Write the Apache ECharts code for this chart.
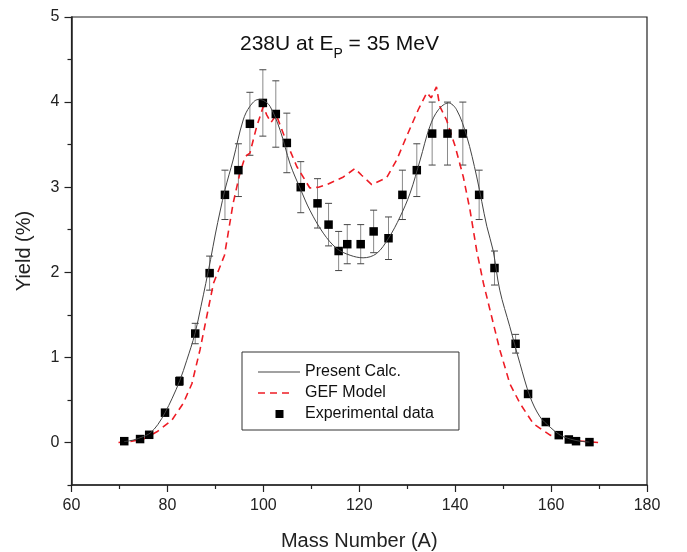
<!DOCTYPE html>
<html>
<head>
<meta charset="utf-8">
<script src="https://cdn.jsdelivr.net/npm/echarts@6/dist/echarts.min.js"></script>
<style>html,body{margin:0;padding:0;background:#fff}#c{width:687px;height:552px}</style>
</head>
<body>
<div id="c"></div>
<script>
// Experimental data
const expX = [71.0, 74.3, 76.2, 79.5, 82.5, 85.8, 88.8, 92.0, 94.8, 97.2, 99.9, 102.6, 104.9, 107.8, 111.3, 113.6, 115.7, 117.5, 120.3, 123.0, 126.1, 129.0, 132.0, 135.2, 138.4, 141.6, 145.0, 148.2, 152.6, 155.2, 158.9, 161.6, 163.7, 165.2, 168.0];
const expY = [0.015, 0.04, 0.09, 0.35, 0.72, 1.28, 1.99, 2.91, 3.20, 3.745, 3.99, 3.86, 3.52, 3.00, 2.81, 2.56, 2.25, 2.33, 2.33, 2.48, 2.40, 2.91, 3.20, 3.63, 3.63, 3.63, 2.91, 2.05, 1.16, 0.57, 0.24, 0.086, 0.035, 0.015, 0.004];
const expErr = [0, 0, 0, 0, 0.05, 0.12, 0.2, 0.29, 0.31, 0.37, 0.39, 0.39, 0.35, 0.30, 0.29, 0.25, 0.23, 0.23, 0.23, 0.25, 0.25, 0.29, 0.31, 0.37, 0.37, 0.37, 0.29, 0.2, 0.11, 0.04, 0, 0, 0, 0, 0];

// Present calculation curve
const calcX = [71, 73, 75, 76.4, 78, 79.5, 81, 82.6, 84, 85.75, 87, 88, 89, 90, 91, 92, 93.7, 95.8, 97.2, 98.9, 100, 101.4, 103.5, 105.6, 107.8, 109.7, 112.5, 115.3, 118.1, 120.8, 123.6, 126.1, 128.5, 130.6, 132.7, 134.7, 136.5, 138.6, 140.3, 142.4, 144.5, 146.6, 147.9, 149.3, 151.4, 153.5, 155.6, 157.7, 159.8, 161.9, 164, 166, 168];
const calcY = [0.01, 0.03, 0.07, 0.11, 0.21, 0.35, 0.52, 0.73, 0.96, 1.28, 1.6, 1.87, 2.15, 2.45, 2.72, 2.97, 3.32, 3.79, 3.95, 4.03, 4.02, 3.95, 3.67, 3.27, 2.97, 2.73, 2.46, 2.28, 2.20, 2.17, 2.22, 2.40, 2.65, 2.93, 3.32, 3.71, 3.91, 3.99, 3.91, 3.60, 3.12, 2.54, 2.26, 1.79, 1.36, 0.93, 0.54, 0.30, 0.18, 0.086, 0.04, 0.015, 0.005];

// GEF model curve
const gefX = [69.8, 72, 75, 77.8, 80.9, 83.3, 85.1, 86.8, 88.2, 89.6, 91.9, 93.7, 95.1, 96.2, 97.2, 98.6, 100.0, 100.7, 101.6, 102.7, 104.9, 107.0, 109.7, 111.5, 113.2, 116.7, 119.1, 120.5, 122.6, 125.7, 127.8, 129.9, 132.3, 134.1, 135.0, 136.1, 136.8, 138.2, 140.0, 141.7, 143.1, 144.5, 145.9, 147.6, 149.3, 151.4, 153.5, 156.3, 159.8, 163.9, 169.8];
const gefY = [0.0, 0.01, 0.04, 0.125, 0.26, 0.46, 0.69, 1.09, 1.48, 1.87, 2.2, 2.81, 3.16, 3.36, 3.40, 3.71, 3.95, 3.85, 3.76, 3.85, 3.52, 3.24, 2.99, 3.0, 3.03, 3.12, 3.22, 3.14, 3.03, 3.11, 3.32, 3.60, 3.91, 4.11, 4.05, 4.18, 3.95, 3.79, 3.48, 3.12, 2.73, 2.25, 1.87, 1.48, 1.09, 0.69, 0.46, 0.22, 0.086, 0.027, 0.0];

// Axis ticks
const xTicks = [60, 80, 100, 120, 140, 160, 180];
const yMajor = [0, 1, 2, 3, 4, 5];
const yMinor = [-0.5, 0.5, 1.5, 2.5, 3.5, 4.5];

const seriesNames = ['Present Calc.', 'GEF Model', 'Experimental data'];

const zip = (a, b) => a.map((v, i) => [v, b[i]]);
const chart = echarts.init(document.getElementById('c'), null, {renderer: 'canvas'});
const FONT = 'Liberation Sans, Arial, sans-serif';
const AX = '#222';

// legend icon shapes (42x14 boxes)
const ICON_SOLID = 'path://M0,0M42,14M0,6.5h42v1h-42z';
const ICON_DASH = 'path://M0,0M42,14M0,6.2h7v1.6h-7zM12,6.2h7v1.6h-7zM24,6.2h7v1.6h-7z';
const ICON_SQUARE = 'path://M0,0M42,14M17.5,3h8v8h-8z';

chart.setOption({
  animation: false,
  backgroundColor: '#fff',
  textStyle: {fontFamily: FONT},
  title: {
    text: '{a|238U at E}{s|P}{a| = 35 MeV}',
    left: 240, top: 34, padding: 0,
    textStyle: {
      fontWeight: 'normal',
      rich: {
        a: {fontSize: 21, verticalAlign: 'top', color: '#111', fontWeight: 'normal', fontFamily: FONT},
        s: {fontSize: 14, verticalAlign: 'top', padding: [13, 0, 0, 0], color: '#111', fontWeight: 'normal', fontFamily: FONT}
      }
    }
  },
  legend: {
    data: [
      {name: seriesNames[0], icon: ICON_SOLID, itemStyle: {color: '#444'}},
      {name: seriesNames[1], icon: ICON_DASH, itemStyle: {color: '#ee1c25'}},
      {name: seriesNames[2], icon: ICON_SQUARE, itemStyle: {color: '#000', opacity: 1}}
    ],
    orient: 'vertical',
    left: 242, top: 352,
    padding: [12, 25, 8, 16],
    itemWidth: 42, itemHeight: 14, itemGap: 5,
    borderColor: '#333', borderWidth: 1,
    textStyle: {fontSize: 16, color: '#111', fontFamily: FONT},
    selectedMode: false
  },
  grid: {left: 71.5, right: 40, top: 17, bottom: 67, outerBoundsMode: 'none', containLabel: false,
    show: true, borderColor: AX, borderWidth: 1.2, backgroundColor: 'transparent'},
  xAxis: {
    type: 'value', min: xTicks[0], max: xTicks[xTicks.length - 1], interval: 20,
    name: 'Mass Number (A)', nameLocation: 'middle', nameGap: 46,
    nameTextStyle: {fontSize: 20, color: '#222', fontFamily: FONT},
    axisLine: {show: true, onZero: false, lineStyle: {color: AX, width: 1.5}},
    axisTick: {show: true, length: 7, inside: false, lineStyle: {color: AX, width: 1.2}},
    minorTick: {show: true, splitNumber: 2, length: 4, lineStyle: {color: AX, width: 1.2}},
    axisLabel: {fontSize: 16, color: '#222', margin: 13, fontFamily: FONT},
    splitLine: {show: false}
  },
  yAxis: [{
    type: 'value', min: -0.5, max: 5,
    name: 'Yield (%)', nameLocation: 'middle', nameGap: 37,
    nameTextStyle: {fontSize: 20, color: '#222', fontFamily: FONT},
    axisLine: {show: true, onZero: false, lineStyle: {color: AX, width: 1.5}},
    axisTick: {show: true, length: 7, customValues: yMajor, lineStyle: {color: AX, width: 1.2}},
    axisLabel: {fontSize: 16, color: '#222', margin: 12, customValues: yMajor, fontFamily: FONT},
    splitLine: {show: false}
  }, {
    type: 'value', min: -0.5, max: 5, position: 'left',
    axisLine: {show: false, onZero: false},
    axisTick: {show: true, length: 4, customValues: yMinor, lineStyle: {color: AX, width: 1.2}},
    axisLabel: {show: false},
    splitLine: {show: false}
  }],
  series: [
    {
      name: 'errors', type: 'custom', z: 2, silent: true,
      data: expX.map((x, i) => [x, expY[i], expErr[i]]),
      encode: {x: 0, y: 1},
      renderItem: function (params, api) {
        const x = api.value(0), y = api.value(1), e = api.value(2);
        if (!e) return null;
        const t = api.coord([x, y + e]), b = api.coord([x, y - e]);
        const hw = 3.5;
        return {type: 'group', children: [
          {type: 'line', shape: {x1: t[0], y1: t[1], x2: b[0], y2: b[1]}, style: {stroke: '#8a8a8a', lineWidth: 1}},
          {type: 'line', shape: {x1: t[0] - hw, y1: t[1], x2: t[0] + hw, y2: t[1]}, style: {stroke: '#444', lineWidth: 1}},
          {type: 'line', shape: {x1: b[0] - hw, y1: b[1], x2: b[0] + hw, y2: b[1]}, style: {stroke: '#444', lineWidth: 1}}
        ]};
      }
    },
    {
      name: seriesNames[1], type: 'line', z: 3, symbol: 'none', showSymbol: false,
      data: zip(gefX, gefY),
      lineStyle: {color: '#ee1c25', width: 1.6, type: [7, 5]},
      itemStyle: {color: '#ee1c25'}
    },
    {
      name: seriesNames[2], type: 'scatter', z: 4, symbol: 'rect', symbolSize: 8.5,
      data: zip(expX, expY),
      itemStyle: {color: '#000', opacity: 1}
    },
    {
      name: seriesNames[0], type: 'line', z: 5, symbol: 'none', showSymbol: false, smooth: 0.35,
      data: zip(calcX, calcY),
      lineStyle: {color: '#444', width: 1},
      itemStyle: {color: '#444'}
    }
  ]
});
</script>
</body>
</html>
